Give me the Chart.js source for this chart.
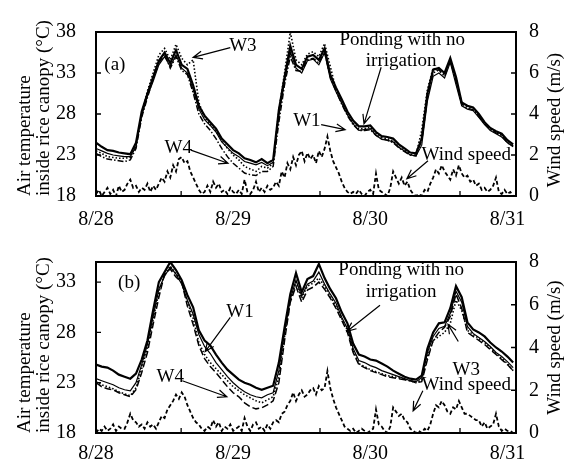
<!DOCTYPE html>
<html>
<head>
<meta charset="utf-8">
<script src="https://cdn.jsdelivr.net/npm/chart.js@4.4.0/dist/chart.umd.min.js"></script>
<style>
  html, body { margin: 0; padding: 0; background: #fff; }
  #wrap { position: relative; width: 574px; height: 470px; }
  .painel { position: absolute; left: 0; width: 574px; }
  #painelA { top: 0; height: 230px; }
  #painelB { top: 230px; height: 240px; }
</style>
</head>
<body>
<div id="wrap">
  <div class="painel" id="painelA"><canvas id="graficoA"></canvas></div>
  <div class="painel" id="painelB"><canvas id="graficoB"></canvas></div>
</div>
<script>
/* =========================
   DADOS
========================= */
const horas = [0,1,2,3,4,5,6,7,8,9,10,11,12,13,14,15,16,17,18,19,20,21,22,23,24,25,26,27,28,29,30,31,32,33,34,35,36,
  37,38,39,40,41,42,43,44,45,46,47,48,49,50,51,52,53,54,55,56,57,58,59,60,61,62,63,64,65,66,67,68,69,70,71,72,73];

// vento lido a cada meia hora
const horasVento = [0,0.5,1,1.5,2,2.5,3,3.5,4,4.5,5,5.5,6,6.5,7,7.5,8,8.5,9,9.5,
  10,10.5,11,11.5,12,12.5,13,13.5,14,14.5,15,15.5,16,16.5,17,17.5,18,18.5,19,19.5,
  20,20.5,21,21.5,22,22.5,23,23.5,24,24.5,25,25.5,26,26.5,27,27.5,28,28.5,29,29.5,
  30,30.5,31,31.5,32,32.5,33,33.5,34,34.5,35,35.5,36,36.5,37,37.5,38,38.5,39,39.5,
  40,40.5,41,41.5,42,42.5,43,43.5,44,44.5,45,45.5,46,46.5,47,47.5,48,48.5,49,49.5,
  50,50.5,51,51.5,52,52.5,53,53.5,54,54.5,55,55.5,56,56.5,57,57.5,58,58.5,59,59.5,
  60,60.5,61,61.5,62,62.5,63,63.5,64,64.5,65,65.5,66,66.5,67,67.5,68,68.5,69,69.5,
  70,70.5,71,71.5,72,72.5,73];

const rotulosDias = ['8/28', '8/29', '8/30', '8/31'];
const horasDias = [0, 24, 48, 72];
const marcasX = [14.9, 39.2, 63.7];
const ticksTempA = [18, 23, 28, 33, 38];
const ticksTempB = [18, 23, 28, 33];
const ticksVento = [0, 2, 4, 6, 8];

// (a)
const pondA = [24.5,24.0,23.6,23.5,23.3,23.2,23.1,24.5,28.3,30.5,
  32.5,34.5,35.5,34.2,35.8,34.0,33.5,31.5,29.0,27.8,
  27.0,26.2,25.0,24.3,23.6,23.2,22.6,22.4,22.1,22.5,
  22.0,22.4,28.5,32.5,36.3,34.0,33.5,35.0,35.2,34.6,
  36.0,32.8,31.2,29.8,28.3,27.2,26.5,26.5,26.6,25.8,
  25.3,25.2,25.0,24.3,23.8,23.3,23.2,25.0,30.5,33.4,
  33.6,33.0,34.8,32.5,29.4,29.0,28.8,28.0,27.0,26.3,
  25.9,25.6,24.8,24.3];
const w1A = [23.8,23.5,23.2,23.0,22.9,22.8,22.8,24.0,27.8,30.2,
  32.0,34.0,35.0,33.8,35.2,33.6,33.0,31.0,28.6,27.3,
  26.6,25.8,24.6,23.9,23.2,22.8,22.2,22.0,21.8,22.1,
  21.7,22.1,27.8,32.0,35.6,33.6,33.0,34.5,34.7,34.0,
  35.5,32.3,30.7,29.3,27.9,26.8,26.0,26.1,26.2,25.4,
  24.9,24.8,24.6,23.9,23.5,23.0,22.9,24.2,29.6,32.6,
  33.0,32.4,34.3,31.6,29.0,28.6,28.4,27.6,26.7,26.0,
  25.6,25.2,24.5,24.0];
const w3A = [23.5,23.2,22.8,22.7,22.6,22.6,22.7,24.3,28.0,30.8,
  33.0,35.2,36.0,34.6,36.5,34.8,34.0,34.6,29.4,27.5,
  26.8,25.9,24.8,23.8,23.0,22.4,21.6,21.3,21.0,21.6,
  21.4,22.0,28.4,33.0,38.0,34.6,34.0,35.3,35.6,35.0,
  36.6,33.8,31.0,29.5,28.0,26.9,26.2,26.2,26.4,25.6,
  25.1,25.0,24.7,24.0,23.6,23.1,23.0,26.0,31.0,33.6,
  33.2,32.9,34.6,32.2,29.4,28.9,28.7,27.8,26.9,26.2,
  25.8,25.4,24.6,24.1];
const w4A = [23.2,22.8,22.5,22.4,22.3,22.2,22.4,23.8,27.6,30.0,
  32.3,34.2,35.3,33.6,35.0,33.3,32.8,30.6,28.0,26.8,
  26.0,25.0,23.8,22.8,22.0,21.4,20.8,20.6,20.5,21.0,
  21.0,21.6,27.0,31.6,35.0,33.3,33.2,34.6,34.8,34.2,
  35.6,32.5,30.8,29.2,27.8,26.7,26.0,26.0,26.1,25.4,
  25.0,24.8,24.5,23.9,23.4,23.0,22.9,24.8,30.0,33.0,
  33.4,32.6,34.5,32.0,29.2,28.7,28.5,27.7,26.8,26.1,
  25.7,25.4,24.5,24.1];
const ventoA = [0.1,0.3,0.0,0.2,0.4,0.1,0.3,0.0,0.5,0.2,
  0.3,0.6,0.8,0.4,0.5,0.2,0.4,0.3,0.6,0.2,
  0.5,0.3,0.6,0.9,0.7,1.2,0.9,1.5,1.2,1.8,
  1.9,1.6,1.7,1.2,0.9,0.6,0.3,0.1,0.2,0.5,
  0.2,0.7,0.4,0.6,0.2,0.3,0.1,0.4,0.2,0.1,
  0.3,0.1,0.8,0.2,0.1,0.3,0.7,0.2,0.4,0.2,
  0.5,0.3,0.4,0.7,0.5,1.2,0.9,1.6,1.3,1.9,
  1.5,2.0,2.2,1.7,2.1,1.8,2.0,1.6,2.2,1.9,
  2.3,2.9,2.2,1.7,1.4,1.1,0.7,0.4,0.2,0.1,
  0.2,0.1,0.3,0.1,0.0,0.2,0.3,0.1,1.1,0.3,
  0.2,0.1,0.0,0.4,1.2,0.9,0.6,0.9,0.5,0.7,
  0.3,0.1,0.0,0.1,0.0,0.3,0.2,0.6,0.9,1.3,
  1.1,1.5,1.2,1.0,0.8,1.3,1.0,1.5,1.1,0.9,
  1.0,0.7,0.8,0.5,0.6,0.3,0.4,0.2,0.3,0.5,
  0.9,0.2,0.1,0.3,0.1,0.2,0.0];

// (b)
const pondB = [24.8,24.6,24.5,24.2,23.8,23.6,23.4,23.9,25.3,27.2,
  30.2,33.0,34.0,35.0,34.2,33.2,31.7,30.5,28.2,27.2,
  26.7,25.8,25.0,24.3,23.8,23.3,23.0,22.8,22.5,22.3,
  22.5,22.7,25.0,28.5,31.8,33.9,32.0,33.3,33.6,34.8,
  33.4,32.3,31.4,30.0,28.9,26.9,25.8,25.6,25.3,25.2,
  24.9,24.6,24.2,23.9,23.6,23.4,23.3,23.7,26.4,28.0,
  28.9,29.0,30.4,32.6,31.5,29.0,28.3,28.0,27.6,27.0,
  26.5,26.1,25.6,25.0];
const w1B = [23.4,23.2,23.0,22.8,22.5,22.3,22.2,23.0,24.8,26.8,
  29.6,32.3,33.6,34.5,33.8,32.8,31.2,29.8,27.8,26.6,
  25.9,25.0,24.3,23.6,23.0,22.5,22.1,21.8,21.6,21.5,
  21.8,22.0,24.2,28.0,31.3,33.2,31.6,32.8,33.1,34.0,
  32.8,31.8,30.9,29.5,28.4,26.4,25.2,25.0,24.7,24.5,
  24.2,24.0,23.8,23.6,23.4,23.2,23.1,23.5,26.0,27.6,
  28.4,28.6,29.9,32.1,31.0,28.6,27.9,27.5,27.1,26.6,
  26.0,25.6,25.1,24.5];
const w3B = [23.1,22.8,22.6,22.4,22.1,21.9,21.7,22.5,24.4,26.5,
  29.3,32.0,33.8,34.6,33.8,33.0,31.0,29.4,27.0,25.8,
  25.0,24.4,23.8,23.2,22.6,22.2,21.8,21.5,21.2,21.0,
  21.3,21.6,23.6,27.6,31.2,33.0,31.4,32.6,32.9,33.4,
  32.6,31.6,30.6,29.4,28.2,26.2,24.9,24.6,24.3,24.1,
  23.9,23.7,23.6,23.5,23.3,23.2,23.0,23.3,25.6,27.2,
  27.6,28.0,28.9,31.2,30.2,28.2,27.8,27.4,27.0,26.5,
  25.9,25.4,24.9,24.2];
const w4B = [23.0,22.6,22.4,22.3,22.0,21.8,21.6,22.3,24.0,26.0,
  28.8,31.5,33.8,34.3,33.5,33.0,30.6,28.8,26.7,25.4,
  24.6,24.0,23.3,22.6,22.0,21.6,21.0,20.6,20.4,20.5,
  20.8,21.2,23.0,27.2,31.0,32.6,31.0,32.2,32.5,33.0,
  32.3,31.4,30.4,29.2,28.0,26.0,24.8,24.5,24.2,24.0,
  23.8,23.6,23.5,23.4,23.3,23.2,23.0,23.1,25.3,27.2,
  28.0,28.5,29.6,31.8,30.4,28.0,27.6,27.2,26.8,26.3,
  25.8,25.3,24.8,24.2];
const ventoB = [0.0,0.2,0.1,0.3,0.1,0.2,0.4,0.1,0.3,0.2,
  0.2,0.5,0.9,0.6,0.5,0.3,0.4,0.2,0.5,0.3,
  0.4,0.2,0.5,0.8,0.7,1.1,1.3,1.5,1.8,1.6,
  1.9,1.7,1.3,1.0,0.7,0.5,0.4,0.2,0.1,0.3,
  0.2,0.6,0.3,0.5,0.1,0.3,0.2,0.4,0.1,0.2,
  0.3,0.1,0.7,0.3,0.1,0.4,0.5,0.2,0.3,0.1,
  0.4,0.2,0.5,0.6,0.5,0.9,1.0,1.3,1.5,1.9,
  1.5,1.8,2.0,1.7,1.8,2.0,2.1,1.8,2.2,2.0,
  2.1,2.9,2.1,1.6,1.2,0.9,0.6,0.3,0.2,0.1,
  0.2,0.0,0.1,0.2,0.1,0.0,0.1,0.2,1.1,0.4,
  0.3,0.1,0.0,0.3,1.2,1.0,0.8,0.9,0.6,0.5,
  0.2,0.1,0.0,0.1,0.0,0.2,0.1,0.4,0.9,1.3,
  1.2,1.5,1.3,1.0,0.9,1.2,1.1,1.5,1.2,0.9,
  0.9,0.8,0.7,0.6,0.6,0.3,0.5,0.2,0.3,0.4,
  0.9,0.3,0.1,0.2,0.1,0.1,0.0];

/* =========================
   ANOTACOES (hora, temperatura)
========================= */
const notasA = [
  { texto: '(a)', h: 3.3, t: 34.0 },
  { texto: 'W3', h: 25.7, t: 36.3 },
  { texto: 'W4', h: 14.4, t: 23.9 },
  { texto: 'W1', h: 36.9, t: 27.2 },
  { texto: 'Ponding with no', h: 53.6, t: 37.0 },
  { texto: 'irrigation', h: 53.4, t: 34.5 },
  { texto: 'Wind speed', h: 64.8, t: 23.0 }
];
const setasA = [
  { de: [23.5, 36.1], para: [17.0, 34.9] },
  { de: [16.6, 23.6], para: [23.1, 22.0] },
  { de: [39.4, 26.7], para: [43.6, 26.1] },
  { de: [49.9, 33.7], para: [46.9, 26.8] },
  { de: [58.1, 22.3], para: [54.4, 20.1] }
];
const notasB = [
  { texto: '(b)', h: 5.8, t: 32.9 },
  { texto: 'W1', h: 25.2, t: 30.0 },
  { texto: 'W4', h: 13.0, t: 23.6 },
  { texto: 'Ponding with no', h: 53.4, t: 34.2 },
  { texto: 'irrigation', h: 53.4, t: 32.0 },
  { texto: 'W3', h: 64.8, t: 24.3 },
  { texto: 'Wind speed', h: 64.8, t: 22.8 }
];
const setasB = [
  { de: [23.5, 29.5], para: [19.1, 26.1] },
  { de: [15.1, 23.2], para: [22.9, 21.6] },
  { de: [49.7, 30.7], para: [43.9, 28.1] },
  { de: [63.4, 27.1], para: [61.6, 28.8] },
  { de: [57.2, 22.2], para: [55.5, 20.2] }
];

/* =========================
   UTILIDADES
========================= */
const FONTE = "'Liberation Serif', 'Times New Roman', serif";

function pares(tempos, valores) {
  return tempos.map((h, i) => ({ x: h, y: valores[i] }));
}

const decoracao = {
  id: 'decoracao',
  afterDatasetsDraw(chart, args, opts) {
    const { ctx, chartArea: a, scales: { x, y, y2 } } = chart;
    ctx.save();
    ctx.strokeStyle = '#000';
    ctx.fillStyle = '#000';

    // moldura
    ctx.lineWidth = 2;
    ctx.strokeRect(a.left, a.top, a.right - a.left, a.bottom - a.top);

    // marcas para dentro
    ctx.lineWidth = 1.3;
    ctx.beginPath();
    y.ticks.forEach(t => {
      const py = y.getPixelForValue(t.value);
      ctx.moveTo(a.left, py); ctx.lineTo(a.left + 5, py);
    });
    y2.ticks.forEach(t => {
      const py = y2.getPixelForValue(t.value);
      ctx.moveTo(a.right, py); ctx.lineTo(a.right - 5, py);
    });
    marcasX.forEach(hh => {
      const px = x.getPixelForValue(hh);
      ctx.moveTo(px, a.bottom); ctx.lineTo(px, a.bottom - 5);
    });
    ctx.stroke();

    // setas
    ctx.lineWidth = 1.2;
    opts.setas.forEach(s => {
      const x1 = x.getPixelForValue(s.de[0]), y1 = y.getPixelForValue(s.de[1]);
      const x2 = x.getPixelForValue(s.para[0]), y2p = y.getPixelForValue(s.para[1]);
      const ang = Math.atan2(y2p - y1, x2 - x1);
      ctx.beginPath();
      ctx.moveTo(x1, y1); ctx.lineTo(x2, y2p);
      ctx.moveTo(x2 - 10 * Math.cos(ang - 0.4), y2p - 10 * Math.sin(ang - 0.4));
      ctx.lineTo(x2, y2p);
      ctx.lineTo(x2 - 10 * Math.cos(ang + 0.4), y2p - 10 * Math.sin(ang + 0.4));
      ctx.stroke();
    });

    // textos
    ctx.font = '19px ' + FONTE;
    ctx.textAlign = 'center';
    ctx.textBaseline = 'middle';
    opts.notas.forEach(n => {
      ctx.fillText(n.texto, x.getPixelForValue(n.h), y.getPixelForValue(n.t));
    });

    // titulo do eixo direito (lido de baixo para cima)
    ctx.translate(555, (a.top + a.bottom) / 2 + opts.desvioTitulo);
    ctx.rotate(-Math.PI / 2);
    ctx.fillText('Wind speed (m/s)', 0, 0);
    ctx.restore();
  }
};

/* =========================
   MONTAR PAINEL
========================= */
function montarPainel(id, cfg) {
  const ctx = document.getElementById(id);
  const fonteTick = { family: FONTE, size: 20, lineHeight: 1.2 };

  return new Chart(ctx, {
    type: 'line',
    data: {
      datasets: [
        { label: 'Ponding with no irrigation', data: pares(horas, cfg.pond), borderColor: '#000', borderWidth: 2.2, yAxisID: 'y' },
        { label: 'W1', data: pares(horas, cfg.w1), borderColor: '#000', borderWidth: 1.2, yAxisID: 'y' },
        { label: 'W3', data: pares(horas, cfg.w3), borderColor: '#000', borderWidth: 1.6, borderDash: [1.5, 2], yAxisID: 'y' },
        { label: 'W4', data: pares(horas, cfg.w4), borderColor: '#000', borderWidth: 1.5, borderDash: cfg.tracoW4, yAxisID: 'y' },
        { label: 'Wind speed', data: pares(horasVento, cfg.vento), borderColor: '#000', borderWidth: 1.8, borderDash: [4, 2.5], yAxisID: 'y2' }
      ]
    },
    options: {
      responsive: true,
      maintainAspectRatio: false,
      animation: false,
      layout: { padding: { top: cfg.topo, left: 0, right: 0, bottom: 0 } },
      elements: { point: { radius: 0 }, line: { tension: 0 } },
      plugins: {
        legend: { display: false },
        tooltip: { enabled: false },
        decoracao: { notas: cfg.notas, setas: cfg.setas, desvioTitulo: cfg.desvioTitulo }
      },
      scales: {
        x: {
          type: 'linear',
          min: 0,
          max: 73.5,
          afterBuildTicks: s => { s.ticks = horasDias.map(v => ({ value: v })); },
          ticks: {
            callback: v => rotulosDias[horasDias.indexOf(v)],
            font: fonteTick,
            color: '#000',
            padding: cfg.padX,
            maxRotation: 0,
            autoSkip: false
          },
          grid: { display: false, drawTicks: false },
          border: { display: false },
          afterFit: s => { s.height = cfg.alturaX; }
        },
        y: {
          position: 'left',
          min: 18,
          max: cfg.maxTemp,
          afterBuildTicks: s => { s.ticks = cfg.ticksTemp.map(v => ({ value: v })); },
          ticks: { font: fonteTick, color: '#000', padding: 20 },
          grid: { display: false, drawTicks: false },
          border: { display: false },
          title: {
            display: true,
            text: ['Air temperature', 'inside rice canopy (°C)'],
            align: 'start',
            color: '#000',
            font: { family: FONTE, size: 19, lineHeight: 1 },
            padding: { top: 16, bottom: 0 }
          },
          afterFit: s => { s.width = 96; }
        },
        y2: {
          position: 'right',
          min: 0,
          max: 8,
          afterBuildTicks: s => { s.ticks = ticksVento.map(v => ({ value: v })); },
          ticks: { font: fonteTick, color: '#000', padding: 13 },
          grid: { display: false, drawTicks: false },
          border: { display: false },
          afterFit: s => { s.width = 58; }
        }
      }
    },
    plugins: [decoracao]
  });
}

montarPainel('graficoA', {
  pond: pondA, w1: w1A, w3: w3A, w4: w4A, vento: ventoA,
  tracoW4: [6, 2, 1.5, 2],
  notas: notasA, setas: setasA,
  maxTemp: 38, ticksTemp: ticksTempA,
  topo: 15, alturaX: 34, padX: 12, desvioTitulo: 6
});

montarPainel('graficoB', {
  pond: pondB, w1: w1B, w3: w3B, w4: w4B, vento: ventoB,
  tracoW4: [7, 3],
  notas: notasB, setas: setasB,
  maxTemp: 35, ticksTemp: ticksTempB,
  topo: 22, alturaX: 37, padX: 9, desvioTitulo: 0
});
</script>
</body>
</html>
